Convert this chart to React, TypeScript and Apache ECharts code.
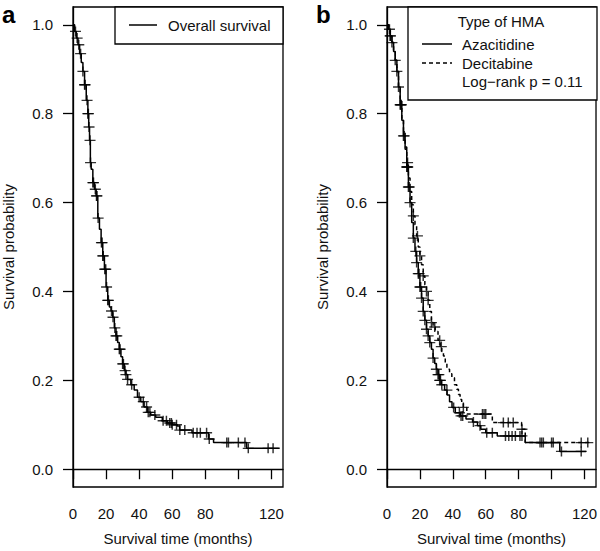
import React, { useEffect, useRef } from "react";
import * as echarts from "echarts";

// ---------- data ----------
// Panel a: overall survival (Kaplan–Meier step points)
const OS_T = [0,1,2,3,4,5,6,7,8,9,9.5,10,10.5,11,12,13,14,15,16,17,18,19,20,21,22,23,24,25,26,27,28,29,30,31,32,33,35,37,39,41,43,45,47,50,54,57,60,63,64.5,72,82,85,105,125];
const OS_S = [1,0.985,0.97,0.955,0.935,0.915,0.895,0.865,0.83,0.8,0.77,0.74,0.69,0.675,0.645,0.63,0.615,0.565,0.54,0.51,0.48,0.45,0.41,0.38,0.365,0.356,0.342,0.318,0.3,0.285,0.27,0.253,0.237,0.222,0.213,0.202,0.19,0.178,0.162,0.152,0.14,0.128,0.122,0.117,0.109,0.104,0.1,0.097,0.088,0.082,0.068,0.06,0.047,0.047];
const OS_CENS = [1.5,2.5,3.5,4.6,6,7,7.3,8.5,9,9.3,9.7,10.3,10.6,12,12.4,13.5,14.2,14.5,15.2,17.2,17.6,18,18.3,19.2,19.8,20.3,21,21.4,23.3,24.2,25.3,26,26.5,28,28.5,30,30.5,31.5,32,33,35.5,40,42.5,44.5,45.5,46.5,49.5,54.5,56.5,58.5,59.5,60,62.6,64.6,67.6,72.7,75,77,80.8,82.4,93,94,100,104,106,118,121];

// Panel b: Azacitidine (solid)
const AZA_T = [0,1,2,3,4,5,6,7,8,9,10,11,12,13,14,15,16,17,18,19,20,21,22,23,24,25,26,27,28,29,30,31,32,33,35,36.5,38,39.5,41.5,44.5,48,52,55,57,60,67,84,105,121];
const AZA_S = [1,0.99,0.975,0.96,0.94,0.92,0.895,0.86,0.82,0.785,0.75,0.72,0.68,0.635,0.6,0.555,0.52,0.49,0.465,0.44,0.41,0.385,0.355,0.335,0.315,0.3,0.285,0.27,0.25,0.238,0.225,0.213,0.2,0.19,0.178,0.167,0.152,0.139,0.127,0.12,0.113,0.106,0.098,0.09,0.082,0.075,0.06,0.04,0.04];
const AZA_CENS = [1.5,2,5,6,7,8,8.3,8.7,10,10.5,12,12.3,12.6,13,13.5,14,16,17.5,18,19,19.5,20,20.5,21,22,23,24,25,26,28,30,31,31.5,32,32.5,33.3,36.4,40.5,44,45,46,52.5,56.5,60.6,64,72,74,76,78,80.8,82,93,94,95,100,101,106,118];

// Panel b: Decitabine (dashed)
const DEC_T = [0,1,2,3,4,5,6,7,8,9,10,11,12,13,14,15,16,17,18,19,20,21,22,23,24,25,26,27,28,29.3,31,32.3,33.3,34.3,35.4,36.4,38,39.4,41,42.4,43.4,44.4,45.4,46.4,48.5,64,81.8,84,124];
const DEC_S = [1,0.99,0.975,0.96,0.94,0.92,0.895,0.86,0.83,0.79,0.76,0.725,0.69,0.655,0.625,0.595,0.57,0.55,0.525,0.5,0.48,0.46,0.435,0.415,0.4,0.38,0.355,0.33,0.32,0.31,0.29,0.276,0.265,0.255,0.24,0.225,0.215,0.206,0.19,0.18,0.168,0.157,0.148,0.139,0.124,0.105,0.09,0.06,0.06];
const DEC_CENS = [2,3,12.5,16,18.5,20,22,24,25,27,29,32,33,46.4,58,59,60,70.7,73.7,76.7,82,118,122];

const X_TICKS = [0,20,40,60,80,100,120];
const X_LABELS = [0,20,40,60,80,120];
const Y_TICKS = [0,0.2,0.4,0.6,0.8,1.0];

// ---------- helpers ----------
const FONT = '"Liberation Sans", Arial, Helvetica, sans-serif';
const TXT = "#111";

function survAt(ts: number[], ss: number[], t: number) {
  let v = ss[0];
  for (let i = 0; i < ts.length; i++) {
    if (ts[i] <= t) v = ss[i];
    else break;
  }
  return v;
}
const pairs = (ts: number[], ss: number[]) => ts.map((t, i) => [t, ss[i]]);
const censPairs = (c: number[], ts: number[], ss: number[]) => c.map((t) => [t, survAt(ts, ss, t)]);

const PLUS = "path://M5,0L5,10M0,5L10,5";

function xAxis(grid: number) {
  return {
    type: "value",
    gridIndex: grid,
    min: 0,
    max: 127,
    axisLine: { show: true, lineStyle: { color: "#000", width: 1.3 } },
    axisTick: { show: true, length: 10, inside: false, customValues: X_TICKS, lineStyle: { color: "#000", width: 1.3 } },
    axisLabel: { customValues: X_LABELS, margin: 19, fontSize: 15, color: TXT, fontFamily: FONT },
    splitLine: { show: false },
    name: "Survival time (months)",
    nameLocation: "middle",
    nameGap: 44,
    nameTextStyle: { fontSize: 15, color: TXT, fontFamily: FONT },
  };
}
function yAxis(grid: number) {
  return {
    type: "value",
    gridIndex: grid,
    min: -0.04,
    max: 1.04,
    axisLine: { show: true, lineStyle: { color: "#000", width: 1.3 } },
    axisTick: { show: true, length: 10, inside: false, customValues: Y_TICKS, lineStyle: { color: "#000", width: 1.3 } },
    axisLabel: {
      customValues: Y_TICKS,
      margin: 20,
      fontSize: 15,
      color: TXT,
      fontFamily: FONT,
      formatter: (v: number) => v.toFixed(1),
    },
    splitLine: { show: false },
    name: "Survival probability",
    nameLocation: "middle",
    nameGap: 57,
    nameRotate: 90,
    nameTextStyle: { fontSize: 15, color: TXT, fontFamily: FONT },
  };
}

function lineSeries(name: string, grid: number, data: number[][], dashed: boolean) {
  return {
    name,
    type: "line",
    xAxisIndex: grid,
    yAxisIndex: grid,
    step: "end",
    showSymbol: false,
    symbol: "none",
    silent: true,
    lineStyle: { color: "#000", width: 1.5, type: dashed ? [4, 3] : "solid" },
    data,
    z: 3,
  };
}
function censSeries(name: string, grid: number, data: number[][]) {
  return {
    name,
    type: "scatter",
    xAxisIndex: grid,
    yAxisIndex: grid,
    symbol: PLUS,
    symbolSize: [11, 10],
    silent: true,
    itemStyle: { color: "none", borderColor: "#000", borderWidth: 1.4 },
    data,
    z: 4,
  };
}

function txt(x: number, y: number, text: string, extra: any = {}) {
  return {
    type: "text",
    x,
    y,
    z: 20,
    style: {
      text,
      font: `15px ${FONT}`,
      fill: TXT,
      textAlign: "left",
      textVerticalAlign: "middle",
      align: "left",
      verticalAlign: "middle",
      ...extra,
    },
  };
}

export default function App() {
  const ref = useRef<HTMLDivElement>(null);
  useEffect(() => {
    if (!ref.current) return;
    const chart = echarts.init(ref.current, null, { renderer: "svg" });
    const option = {
      animation: false,
      backgroundColor: "#fff",
      textStyle: { fontFamily: FONT },
      grid: [
        { left: 73, top: 7, width: 210, height: 481, show: true, borderColor: "#000", borderWidth: 1.3, backgroundColor: "transparent" },
        { left: 387, top: 7, width: 210, height: 481, show: true, borderColor: "#000", borderWidth: 1.3, backgroundColor: "transparent" },
      ],
      xAxis: [xAxis(0), xAxis(1)],
      yAxis: [yAxis(0), yAxis(1)],
      series: [
        lineSeries("Overall survival", 0, pairs(OS_T, OS_S), false),
        censSeries("Overall censored", 0, censPairs(OS_CENS, OS_T, OS_S)),
        lineSeries("Azacitidine", 1, pairs(AZA_T, AZA_S), false),
        censSeries("Azacitidine censored", 1, censPairs(AZA_CENS, AZA_T, AZA_S)),
        lineSeries("Decitabine", 1, pairs(DEC_T, DEC_S), true),
        censSeries("Decitabine censored", 1, censPairs(DEC_CENS, DEC_T, DEC_S)),
      ],
      graphic: [
        // panel labels
        txt(2, 14, "a", { font: `bold 24px ${FONT}`, fill: "#000" }),
        txt(316, 14, "b", { font: `bold 24px ${FONT}`, fill: "#000" }),
        // legend a
        { type: "rect", z: 15, shape: { x: 115, y: 7, width: 168, height: 37 }, style: { fill: "#fff", stroke: "#000", lineWidth: 1.3 } },
        { type: "line", z: 20, shape: { x1: 129, y1: 25, x2: 157, y2: 25 }, style: { stroke: "#000", lineWidth: 1.5 } },
        txt(168, 25, "Overall survival"),
        // legend b
        { type: "rect", z: 15, shape: { x: 408, y: 7, width: 189, height: 93 }, style: { fill: "#fff", stroke: "#000", lineWidth: 1.3 } },
        txt(501, 21, "Type of HMA", { textAlign: "center", align: "center" }),
        { type: "line", z: 20, shape: { x1: 422, y1: 44, x2: 452, y2: 44 }, style: { stroke: "#000", lineWidth: 1.5 } },
        txt(462, 44, "Azacitidine"),
        { type: "line", z: 20, shape: { x1: 422, y1: 63, x2: 452, y2: 63 }, style: { stroke: "#000", lineWidth: 1.5, lineDash: [4, 3] } },
        txt(462, 63, "Decitabine"),
        txt(462, 81, "Log\u2212rank p = 0.11"),
      ],
    };
    chart.setOption(option as any);
    return () => chart.dispose();
  }, []);
  return <div ref={ref} style={{ position: "absolute", left: 0, top: 0, width: 600, height: 551 }} />;
}
